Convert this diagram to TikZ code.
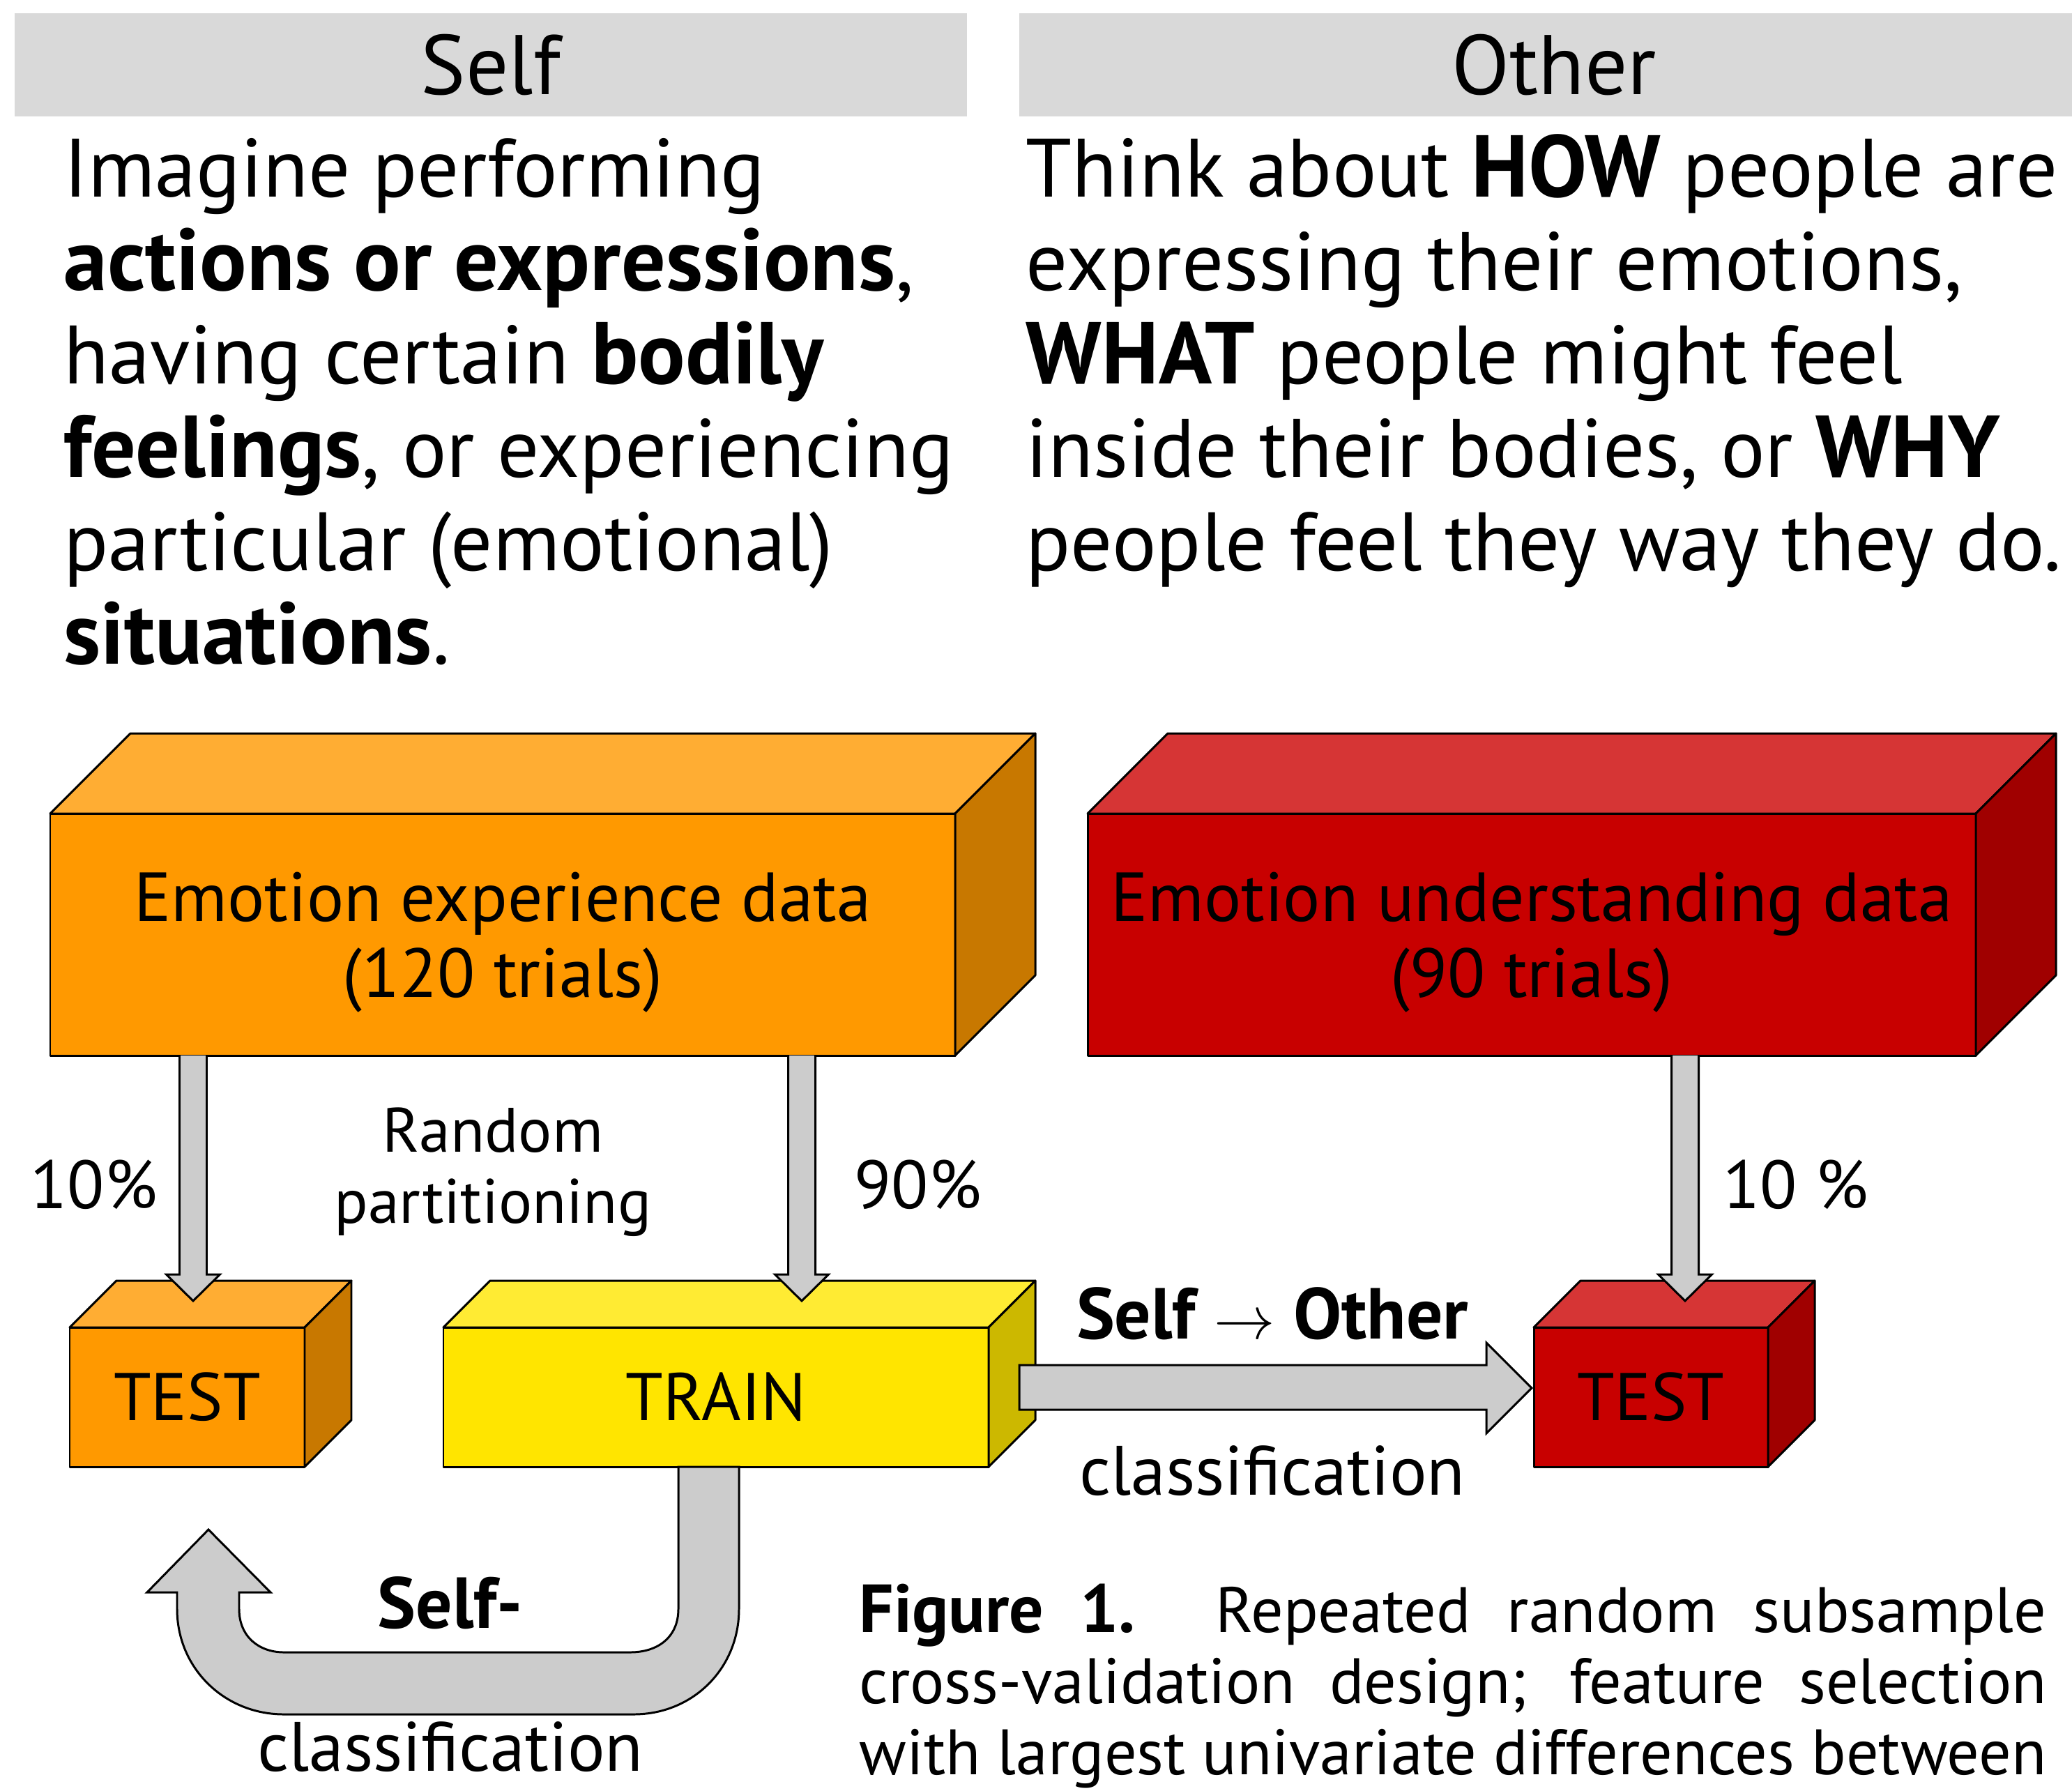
\documentclass[tikz,border=0pt]{standalone}
\usepackage{fontspec}
\setmainfont{PT Sans}[BoldFeatures={Scale=1.06}]
\usepackage{tikz}
\usetikzlibrary{calc}

\definecolor{bandgrey}{HTML}{D9D9D9}
\definecolor{arrowgrey}{HTML}{CCCCCC}
\definecolor{orangefront}{HTML}{FF9900}
\definecolor{orangetop}{HTML}{FFAD33}
\definecolor{orangeside}{HTML}{C87800}
\definecolor{yellowfront}{HTML}{FFE500}
\definecolor{yellowtop}{HTML}{FFEB33}
\definecolor{yellowside}{HTML}{CCB800}
\definecolor{redfront}{HTML}{C80000}
\definecolor{redtop}{HTML}{D63535}
\definecolor{redside}{HTML}{A00000}

% top and right faces of a box drawn round a front node
\newcommand{\cubefaces}[4]{%
	\draw[boxline, fill=#3] (#1.north west) -- ++(#2,#2) -- ($(#1.north east)+(#2,#2)$) -- (#1.north east) -- cycle;
	\draw[boxline, fill=#4] (#1.north east) -- ++(#2,#2) -- ($(#1.south east)+(#2,#2)$) -- (#1.south east) -- cycle;
}
% grey block arrow going down from one box to another
\newcommand{\splitarrow}[3]{%
	\draw[blockarrow] ($(#1 |- #2.south)+(-0.195,0)$) -- ($(#1 |- #3.north)+(-0.195,0.76)$)
		-- ++(-0.19,0) -- ($(#1 |- #3.north)+(0,0.38)$)
		-- ($(#1 |- #3.north)+(0.385,0.76)$) -- ++(-0.19,0)
		-- ($(#1 |- #2.south)+(0.195,0)$);
}

\begin{document}
\begin{tikzpicture}[
	boxline/.style={draw=black, line width=0.85pt, line join=round},
	front/.style={boxline, outer sep=0pt, inner sep=0pt, align=center},
	band/.style={fill=bandgrey, outer sep=0pt, inner sep=0pt, font=\fontsize{34.5}{38}\selectfont},
	blockarrow/.style={draw=black, fill=arrowgrey, line width=0.85pt},
	bodytext/.style={align=left, inner sep=0pt, font=\fontsize{33.8}{38.1}\selectfont},
	bigbox/.style={front, minimum height=3.47cm, text depth=0pt, font=\fontsize{28.3}{31}\selectfont},
	smallbox/.style={front, minimum height=2cm, font=\fontsize{27.5}{31}\selectfont},
	label/.style={inner sep=0pt, font=\fontsize{27.8}{31}\selectfont},
	boldlabel/.style={inner sep=0pt, font=\fontsize{27.8}{31}\selectfont\bfseries}]
	\useasboundingbox (0,0) rectangle (29.72,-25.68);

	% headers
	\draw (7.04,-0.93) node (selfhead) [band, minimum width=13.66cm, minimum height=1.48cm] {Self};
	\draw (22.17,-0.93) node (otherhead) [band, minimum width=15.10cm, minimum height=1.48cm] {\hspace{0.25cm}Other};

	\draw (0.91,-9.52) node (selftext) [bodytext, anchor=base west] {Imagine performing\\
		\textbf{actions or expressions},\\
		having certain \textbf{bodily}\\
		\textbf{feelings}, or experiencing\\
		particular (emotional)\\
		\textbf{situations}.};
	\draw (14.71,-8.18) node (othertext) [bodytext, anchor=base west] {Think about \textbf{HOW} people are\\
		expressing their emotions,\\
		\textbf{WHAT} people might feel\\
		inside their bodies, or \textbf{WHY}\\
		people feel they way they do.};

	% boxes
	\draw (7.21,-13.405) node (expdata) [bigbox, fill=orangefront, minimum width=12.98cm] {Emotion experience data\\(120 trials)};
	\cubefaces{expdata}{1.15}{orangetop}{orangeside}
	\draw (21.97,-13.405) node (unddata) [bigbox, fill=redfront, minimum width=12.74cm] {Emotion understanding data\\(90 trials)};
	\cubefaces{unddata}{1.15}{redtop}{redside}

	\draw (2.685,-20.04) node (testA) [smallbox, fill=orangefront, minimum width=3.37cm] {TEST};
	\cubefaces{testA}{0.67}{orangetop}{orangeside}
	\draw (10.27,-20.04) node (train) [smallbox, fill=yellowfront, minimum width=7.82cm] {TRAIN};
	\cubefaces{train}{0.67}{yellowtop}{yellowside}
	\draw (23.68,-20.04) node (testR) [smallbox, fill=redfront, minimum width=3.36cm] {TEST};
	\cubefaces{testR}{0.67}{redtop}{redside}

	% arrows
	\coordinate (colA) at (2.77,0);
	\coordinate (colB) at (11.50,0);
	\coordinate (colC) at (24.17,0);
	\splitarrow{colA}{expdata}{testA}
	\splitarrow{colB}{expdata}{train}
	\splitarrow{colC}{unddata}{testR}

	\draw[blockarrow] ($(train.east)+(0.44,0.46)$) -- ($(testR.west)+(-0.68,0.46)$) -- ++(0,0.32)
		-- ($(testR.west)+(-0.03,0.13)$) -- ($(testR.west)+(-0.68,-0.52)$) -- ++(0,0.34)
		-- ($(train.east)+(0.44,-0.18)$) -- cycle;

	\draw[blockarrow] ($(train.south)+(0.33,0)$) -- ++(0,-2.04)
		.. controls +(0,-0.85) and +(0.85,0) .. ++(-1.51,-1.51)
		-- ++(-5.02,0)
		.. controls +(-0.85,0) and +(0,-0.85) .. ++(-1.53,1.51)
		-- ++(0,0.24) -- ++(-0.43,0) -- ++(0.88,0.90) -- ++(0.89,-0.90) -- ++(-0.45,0) -- ++(0,-0.24)
		.. controls +(0,-0.4) and +(-0.35,0) .. ++(0.64,-0.62)
		-- ++(4.97,0)
		.. controls +(0.4,0) and +(0,-0.4) .. ++(0.69,0.62)
		-- ++(0,2.04) -- cycle;

	% labels
	\draw (0.43,-17.33) node (tenA) [label, anchor=base west] {10\%};
	\draw (7.07,-17.54) node (random) [label, anchor=base, align=center, font=\fontsize{25.6}{29}\selectfont] {Random\\partitioning};
	\draw (12.25,-17.33) node (ninety) [label, anchor=base west] {90\%};
	\draw (24.71,-17.33) node (tenR) [label, anchor=base west] {10 \%};
	\draw (18.25,-19.20) node (selfother) [boldlabel, anchor=base] {Self $\rightarrow$ Other};
	\draw (18.25,-21.44) node (clsother) [label, anchor=base, font=\fontsize{28.5}{31}\selectfont] {classification};
	\draw (6.46,-23.35) node (selfself) [boldlabel, anchor=base] {Self-};
	\draw (6.46,-25.40) node (clsself) [label, anchor=base, font=\fontsize{28.5}{31}\selectfont] {classification};

	\draw (12.32,-25.45) node (caption) [inner sep=0pt, anchor=base west, align=left, font=\fontsize{26.2}{29}\selectfont]
		{\makebox[17.03cm][s]{\textbf{Figure 1.} Repeated random subsample}\\
		\makebox[17.03cm][s]{cross-validation design; feature selection}\\
		\makebox[17.03cm][s]{with largest univariate differences between}};
\end{tikzpicture}
\end{document}
